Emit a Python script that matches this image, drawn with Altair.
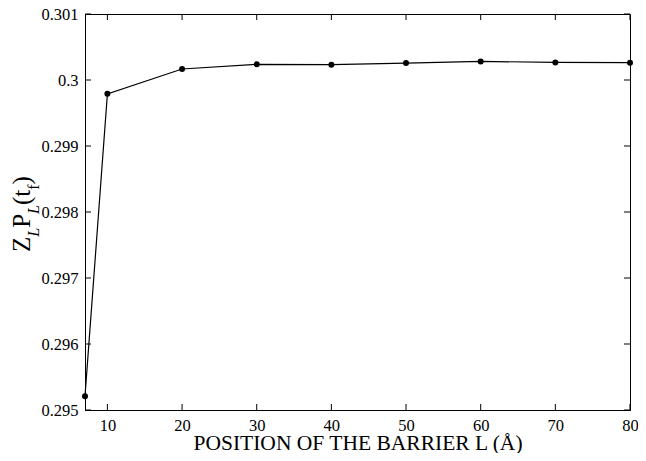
import altair as alt
import pandas as pd

# Data
L_pos = [7, 10, 20, 30, 40, 50, 60, 70, 80]
ZP = [0.29521, 0.29979, 0.300167, 0.300237, 0.300232, 0.300256, 0.300282, 0.300267, 0.300262]

x_ticks = [10, 20, 30, 40, 50, 60, 70, 80]
y_ticks = [0.295, 0.296, 0.297, 0.298, 0.299, 0.300, 0.301]

W, H = 545, 396
TICK = 6
FONT = "Liberation Serif"

df = pd.DataFrame({"L": L_pos, "Z": ZP})
xt = pd.DataFrame({"t": x_ticks})
yt = pd.DataFrame({"t": y_ticks})

xscale = alt.Scale(domain=[7, 80], nice=False, zero=False)
yscale = alt.Scale(domain=[0.295, 0.301], nice=False, zero=False)

xaxis = alt.Axis(values=x_ticks, title="POSITION OF THE BARRIER L (Å)",
                 titleBaseline="alphabetic", titleY=39, labelPadding=7)
yaxis = alt.Axis(values=y_ticks, format=".3~f", title=None, labelPadding=7)

line = alt.Chart(df).mark_line(color="black", strokeWidth=1.2).encode(
    x=alt.X("L:Q", scale=xscale, axis=xaxis),
    y=alt.Y("Z:Q", scale=yscale, axis=yaxis),
)
pts = alt.Chart(df).mark_point(filled=True, color="black", size=36, opacity=1).encode(
    x=alt.X("L:Q", scale=xscale),
    y=alt.Y("Z:Q", scale=yscale),
)

rule = dict(color="black", strokeWidth=1)
tb = alt.Chart(xt).mark_rule(**rule).encode(
    x=alt.X("t:Q", scale=xscale), y=alt.value(H), y2=alt.value(H - TICK))
tt = alt.Chart(xt).mark_rule(**rule).encode(
    x=alt.X("t:Q", scale=xscale), y=alt.value(0), y2=alt.value(TICK))
tl = alt.Chart(yt).mark_rule(**rule).encode(
    y=alt.Y("t:Q", scale=yscale), x=alt.value(0), x2=alt.value(TICK))
tr = alt.Chart(yt).mark_rule(**rule).encode(
    y=alt.Y("t:Q", scale=yscale), x=alt.value(W), x2=alt.value(W - TICK))

# Y-axis title with sub-scripts: Z_L P_L(t_f)
seg_text = ["Z", "L", "P", "L", "(t", "f", ")"]
seg_y = [238, 222.7, 213.8, 199.9, 191, 175.7, 170.4]
seg_x = [-55, -46, -55, -46, -55, -46, -55]
seg_size = [25, 16, 25, 16, 25, 16, 25]
seg_style = ["normal", "italic", "normal", "italic", "normal", "normal", "normal"]

ytitle_layers = []
for s, yy, xx, fs, st in zip(seg_text, seg_y, seg_x, seg_size, seg_style):
    ytitle_layers.append(
        alt.Chart(pd.DataFrame({"s": [s]})).mark_text(
            angle=270, align="left", baseline="alphabetic", font=FONT,
            fontSize=fs, fontStyle=st, color="black"
        ).encode(text="s:N", x=alt.value(xx), y=alt.value(yy))
    )

chart = alt.layer(line, pts, tb, tt, tl, tr, *ytitle_layers).properties(
    width=W, height=H,
    autosize=alt.AutoSizeParams(type="none"),
    padding={"left": 77, "top": 6, "right": 8, "bottom": 43},
    background="white",
).configure_view(stroke="black", strokeWidth=1).configure_axis(
    domainWidth=1, domainColor="black", tickSize=0, grid=False,
    labelFont=FONT, labelFontSize=16.5, labelColor="black", labelFlush=False,
    titleFont=FONT, titleFontSize=21.5, titleFontWeight="normal", titleColor="black",
)

chart.save("out.html", embed_options={"renderer": "svg", "actions": False})
